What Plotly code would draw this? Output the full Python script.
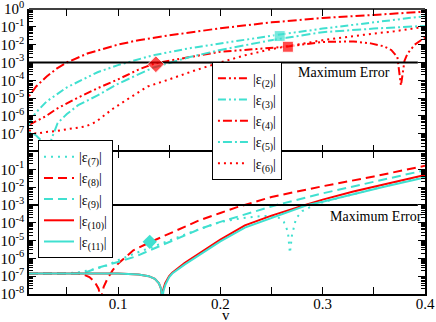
import plotly.graph_objects as go
from plotly.subplots import make_subplots

red = "#ff0000"
cyan = "#40e0d0"
serif = "Liberation Serif"

# values are log10 exponents of |eps|
# ---- top panel
v_e2 = [0.013, 0.02, 0.03, 0.04, 0.06, 0.08, 0.1, 0.12, 0.136, 0.17, 0.2, 0.235, 0.266, 0.3, 0.33,
        0.347, 0.36, 0.367, 0.373, 0.3765, 0.38, 0.383, 0.39, 0.4]
p_e2 = [-6.5, -6.3, -6.0, -5.6, -5.0, -4.45, -3.95, -3.4, -3.05, -2.7, -2.4, -2.25, -2.1, -1.85, -1.82,
        -1.93, -2.1, -2.3, -2.7, -4.3, -2.9, -2.5, -2.0, -1.6]

v_e3 = [0.013, 0.016, 0.02, 0.03, 0.05, 0.08, 0.1, 0.134, 0.17, 0.2, 0.25, 0.3, 0.35, 0.4]
p_e3 = [-6.5, -6.1, -5.8, -5.2, -4.4, -3.55, -3.15, -2.6, -2.2, -1.93, -1.5, -1.1, -0.75, -0.4]

v_e4 = [0.013, 0.02, 0.03, 0.04, 0.05, 0.07, 0.1, 0.12, 0.15, 0.2, 0.25, 0.3, 0.35, 0.4]
p_e4 = [-4.9, -4.35, -3.8, -3.35, -3.0, -2.5, -2.0, -1.75, -1.48, -1.08, -0.75, -0.5, -0.33, -0.15]

v_e5 = [0.013, 0.02, 0.027, 0.031, 0.035, 0.041, 0.05, 0.061, 0.08, 0.1, 0.134, 0.17, 0.2, 0.25, 0.3, 0.35, 0.4]
p_e5 = [-6.9, -7.1, -7.5, -8.2, -7.3, -6.4, -5.9, -5.4, -4.85, -4.2, -3.3, -2.7, -2.3, -1.75, -1.3, -1.1, -0.95]

v_e6 = [0.013, 0.02, 0.03, 0.04, 0.05, 0.068, 0.078, 0.095, 0.111, 0.129, 0.15, 0.175, 0.2, 0.224, 0.25,
        0.28, 0.3, 0.34, 0.37, 0.4]
p_e6 = [-6.8, -7.0, -6.9, -6.85, -6.75, -6.6, -6.35, -5.6, -5.0, -4.35, -3.95, -3.45, -3.0, -2.6, -2.25,
        -1.95, -1.75, -1.45, -1.25, -1.0]

# ---- bottom panel
v_e7 = [0.013, 0.04, 0.06, 0.068, 0.077, 0.087, 0.1, 0.113, 0.127, 0.14, 0.16, 0.18, 0.2, 0.22, 0.24,
        0.255, 0.262, 0.266, 0.268, 0.27, 0.274, 0.28, 0.29, 0.3, 0.35, 0.4]
p_e7 = [-6.85, -6.85, -6.8, -6.72, -6.6, -6.45, -6.1, -5.8, -5.5, -5.2, -4.75, -4.35, -3.96, -3.75, -3.62,
        -3.62, -3.95, -4.5, -5.7, -4.7, -3.75, -3.35, -3.05, -2.85, -2.1, -1.4]

v_e8 = [0.013, 0.06, 0.066, 0.072, 0.077, 0.081, 0.083, 0.086, 0.09, 0.095, 0.1, 0.115, 0.131, 0.15,
        0.18, 0.2, 0.215, 0.25, 0.3, 0.35, 0.4]
p_e8 = [-6.85, -6.85, -6.9, -7.05, -7.3, -7.7, -8.3, -7.6, -7.1, -6.65, -6.3, -5.55, -5.1, -4.6,
        -3.85, -3.45, -3.15, -2.55, -1.95, -1.4, -0.8]

v_e9 = [0.013, 0.06, 0.07, 0.082, 0.1, 0.117, 0.131, 0.15, 0.18, 0.2, 0.22, 0.255, 0.3, 0.35, 0.4]
p_e9 = [-6.85, -6.85, -6.75, -6.5, -6.2, -5.9, -5.55, -5.1, -4.35, -3.95, -3.6, -3.0, -2.35, -1.7, -1.05]

v_e10 = [0.013, 0.1, 0.12, 0.13, 0.136, 0.14, 0.142, 0.143, 0.144, 0.146, 0.15, 0.153, 0.165, 0.182,
         0.2, 0.224, 0.25, 0.283, 0.3, 0.33, 0.36, 0.4]
p_e10 = [-6.85, -6.85, -6.9, -7.0, -7.15, -7.4, -7.7, -8.3, -7.8, -7.4, -7.0, -6.8, -6.26, -5.64,
         -4.95, -4.15, -3.6, -3.0, -2.7, -2.25, -1.85, -1.32]

v_e11 = [0.013, 0.1, 0.12, 0.13, 0.136, 0.14, 0.142, 0.1433, 0.1445, 0.1465, 0.15, 0.153, 0.165, 0.182,
         0.2, 0.224, 0.25, 0.285, 0.3, 0.33, 0.36, 0.4]
p_e11 = [-6.85, -6.85, -6.9, -7.0, -7.15, -7.4, -7.7, -8.3, -7.8, -7.45, -7.05, -6.85, -6.35, -5.72,
         -5.05, -4.27, -3.72, -3.0, -2.82, -2.38, -1.98, -1.46]

# markers (v, exponent)
top_marks_v = [0.137, 0.258, 0.266]
top_marks_p = [-3.1, -1.52, -2.12]
bot_mark_v = [0.131]
bot_mark_p = [-5.07]

max_error = 1e-3
x_range = [0.013, 0.4]


def vals(p):
    return [10 ** e for e in p]


fig = make_subplots(rows=2, cols=1, shared_xaxes=True, vertical_spacing=0)

dashdotdot = "8px,3px,2px,3px,2px,3px"
dashdot = "2px,3px,9px,3px"

top = [
    ("|ε<sub>(2)</sub>|", v_e2, p_e2, red, dashdotdot),
    ("|ε<sub>(3)</sub>|", v_e3, p_e3, cyan, dashdotdot),
    ("|ε<sub>(4)</sub>|", v_e4, p_e4, red, dashdot),
    ("|ε<sub>(5)</sub>|", v_e5, p_e5, cyan, dashdot),
    ("|ε<sub>(6)</sub>|", v_e6, p_e6, red, "2px,4px"),
]
for name, v, p, c, d in top:
    fig.add_trace(go.Scatter(x=v, y=vals(p), mode="lines", name=name,
                             line=dict(color=c, width=2, dash=d), legend="legend"), row=1, col=1)

bottom = [
    ("|ε<sub>(7)</sub>|", v_e7, p_e7, cyan, "2px,5px"),
    ("|ε<sub>(8)</sub>|", v_e8, p_e8, red, "9px,5px"),
    ("|ε<sub>(9)</sub>|", v_e9, p_e9, cyan, "9px,5px"),
    ("|ε<sub>(10)</sub>|", v_e10, p_e10, red, "solid"),
    ("|ε<sub>(11)</sub>|", v_e11, p_e11, cyan, "solid"),
]
for name, v, p, c, d in bottom:
    fig.add_trace(go.Scatter(x=v, y=vals(p), mode="lines", name=name,
                             line=dict(color=c, width=2, dash=d), legend="legend2"), row=2, col=1)

for r in (1, 2):
    fig.add_trace(go.Scatter(x=[x_range[0], 0.393], y=[max_error, max_error], mode="lines",
                             line=dict(color="black", width=2), showlegend=False), row=r, col=1)

fig.add_trace(go.Scatter(x=top_marks_v, y=vals(top_marks_p), mode="markers", showlegend=False,
                         marker=dict(symbol=["diamond", "square", "square"], size=[13, 11, 11],
                                     color=[red, cyan, red])), row=1, col=1)
fig.add_trace(go.Scatter(x=bot_mark_v, y=vals(bot_mark_p), mode="markers", showlegend=False,
                         marker=dict(symbol="diamond", size=11, color=cyan)), row=2, col=1)

major = list(range(-8, 1))
minor_vals = [k * 10.0 ** n for n in range(-8, 0) for k in range(2, 10)]
ax_common = dict(type="log", range=[-8, 0], showline=True, linecolor="black", linewidth=1.5,
                 mirror="allticks", ticks="inside", ticklen=7, tickcolor="black", showgrid=False,
                 zeroline=False, tickfont=dict(family=serif, size=15, color="black"),
                 minor=dict(tickvals=minor_vals, ticks="inside", ticklen=4, tickcolor="black"),
                 automargin=False, ticklabeloverflow="allow")
fig.update_yaxes(**ax_common, tickvals=[10.0 ** e for e in major[1:]], domain=[0.5, 1],
                 ticktext=["10<sup>%d</sup>" % e for e in major[1:]], row=1, col=1)
fig.update_yaxes(**ax_common, tickvals=[10.0 ** e for e in major[:-1]], domain=[0, 0.5],
                 ticktext=["10<sup>%d</sup>" % e for e in major[:-1]], row=2, col=1)
fig.update_xaxes(range=x_range, showline=True, linecolor="black", linewidth=1.5, mirror="allticks",
                 ticks="inside", ticklen=7, tickcolor="black", showgrid=False, zeroline=False,
                 tickvals=[0.1, 0.2, 0.3, 0.4], ticktext=["0.1", "0.2", "0.3", "0.4"],
                 minor=dict(tickvals=[0.05, 0.15, 0.25, 0.35], ticks="inside", ticklen=7, tickcolor="black"),
                 tickfont=dict(family=serif, size=15, color="black"), automargin=False,
                 ticklabelstandoff=-5, ticklabeloverflow="allow")
# top panel: only the outer frame line, the shared middle edge comes from the lower panel
fig.update_xaxes(showline=False, row=1, col=1)
fig.add_shape(type="line", xref="paper", yref="paper", x0=0, x1=1, y0=1, y1=1,
              line=dict(color="black", width=1.5))

fig.add_annotation(x=0.497, y=0, xref="paper", yref="paper", yanchor="top", yshift=-11, text="v",
                   showarrow=False, font=dict(family=serif, size=15, color="black"))
fig.add_annotation(x=0.321, y=-3.55, xref="x", yref="y", text="Maximum Error", showarrow=False,
                   font=dict(family=serif, size=14, color="black"))
fig.add_annotation(x=0.352, y=-3.67, xref="x2", yref="y2", text="Maximum Error", showarrow=False,
                   font=dict(family=serif, size=14, color="black"))

leg = dict(xanchor="left", yanchor="top", bordercolor="black", borderwidth=1, bgcolor="white",
           font=dict(family=serif, size=14, color="black"), itemwidth=30, tracegroupgap=0)
fig.update_layout(
    width=436, height=322,
    margin=dict(l=29, r=11, t=9, b=28),
    plot_bgcolor="white", paper_bgcolor="white",
    legend=dict(x=0.462, y=0.815, **leg),
    legend2=dict(x=0.0227, y=0.54, **leg),
)

fig.write_html("out.html", config={"displayModeBar": False},
               post_script="document.body.style.margin='0px';")
